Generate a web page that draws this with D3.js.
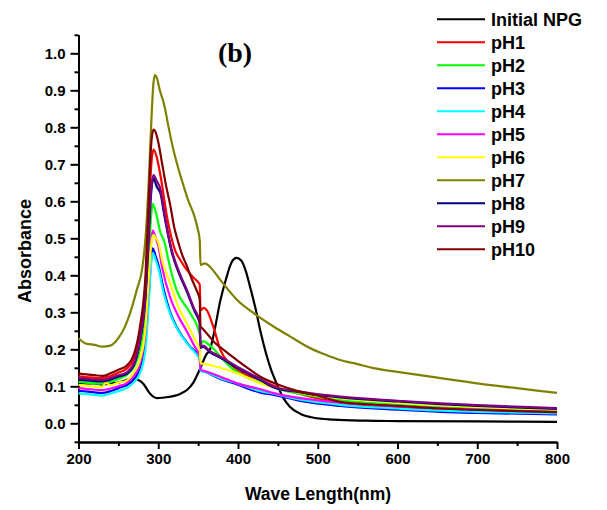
<!DOCTYPE html>
<html>
<head>
<meta charset="utf-8">
<script src="https://cdn.jsdelivr.net/npm/d3@7"></script>
<style>
  body { margin: 0; background: #fff; }
  text { font-family: Arial, "Liberation Sans", sans-serif; font-weight: bold; fill: #000; }
</style>
</head>
<body>
<svg class="chart" width="607" height="510"></svg>
<script>
// series names + colours, in legend order
var seriesNames = ["Initial NPG", "pH1", "pH2", "pH3", "pH4", "pH5", "pH6", "pH7", "pH8", "pH9", "pH10"];
var seriesColors = ["#000000", "#ff0000", "#00ff00", "#0000ff", "#00ffff", "#ff00ff", "#ffff00", "#808000", "#000080", "#800080", "#800000"];

var xTicks = [200, 300, 400, 500, 600, 700, 800];
var yTicks = [0.0, 0.1, 0.2, 0.3, 0.4, 0.5, 0.6, 0.7, 0.8, 0.9, 1.0];

// [wavelength nm, absorbance]
var initialNPG = [[200,0.11],[210,0.108],[220,0.108],[230,0.105],[240,0.108],[250,0.11],[260,0.117],[268,0.12],[275,0.117],[282,0.105],[288,0.085],[292,0.075],[298,0.068],[305,0.069],[312,0.071],[320,0.074],[328,0.08],[336,0.09],[344,0.11],[353,0.15],[360,0.185],[365,0.2],[370,0.245],[378,0.333],[385,0.39],[392,0.435],[398,0.447],[404,0.44],[410,0.41],[415,0.37],[422,0.31],[428,0.25],[435,0.19],[441,0.148],[448,0.11],[457,0.068],[465,0.045],[478,0.026],[495,0.015],[520,0.01],[560,0.007],[600,0.006],[700,0.005],[800,0.004]];
var pH1 = [[200,0.127],[215,0.124],[230,0.122],[240,0.128],[250,0.137],[260,0.147],[270,0.178],[277,0.245],[284,0.37],[288,0.55],[291,0.69],[294,0.74],[298,0.72],[303,0.667],[311,0.558],[321,0.468],[328,0.44],[336,0.414],[345,0.392],[352,0.375],[353,0.305],[357,0.312],[361,0.305],[369,0.261],[378,0.198],[390,0.16],[399,0.144],[428,0.117],[450,0.097],[480,0.078],[528,0.056],[600,0.044],[654,0.037],[700,0.034],[800,0.028]];
var pH2 = [[200,0.112],[215,0.109],[230,0.107],[240,0.112],[250,0.12],[260,0.13],[270,0.155],[277,0.198],[284,0.3],[288,0.44],[291,0.56],[293,0.593],[297,0.57],[303,0.514],[307,0.495],[315,0.42],[323,0.36],[340,0.298],[352,0.24],[353,0.215],[357,0.222],[362,0.215],[370,0.2],[378,0.18],[390,0.153],[410,0.125],[428,0.11],[450,0.093],[500,0.072],[528,0.063],[600,0.05],[654,0.043],[700,0.039],[800,0.033]];
var pH3 = [[200,0.088],[215,0.085],[230,0.082],[240,0.087],[250,0.095],[260,0.103],[270,0.12],[277,0.148],[284,0.22],[288,0.34],[291,0.44],[293,0.473],[297,0.45],[300,0.43],[307,0.36],[315,0.3],[323,0.261],[340,0.207],[352,0.178],[353,0.144],[360,0.138],[378,0.12],[399,0.105],[428,0.083],[445,0.077],[480,0.06],[528,0.047],[600,0.037],[654,0.031],[700,0.028],[800,0.024]];
var pH4 = [[200,0.081],[215,0.078],[230,0.075],[240,0.08],[250,0.087],[260,0.095],[270,0.112],[277,0.135],[284,0.2],[288,0.32],[291,0.43],[293,0.46],[297,0.44],[300,0.42],[307,0.35],[315,0.295],[323,0.258],[340,0.205],[352,0.172],[353,0.142],[360,0.138],[378,0.122],[399,0.108],[428,0.087],[445,0.08],[480,0.063],[528,0.05],[600,0.04],[654,0.034],[700,0.031],[800,0.027]];
var pH5 = [[200,0.095],[215,0.092],[230,0.09],[240,0.094],[250,0.1],[260,0.108],[270,0.13],[277,0.16],[284,0.25],[288,0.38],[291,0.49],[293,0.521],[297,0.5],[300,0.48],[305,0.42],[315,0.34],[325,0.29],[336,0.248],[345,0.21],[352,0.18],[353,0.145],[360,0.14],[378,0.126],[399,0.108],[428,0.092],[450,0.079],[500,0.062],[528,0.056],[600,0.046],[700,0.037],[800,0.03]];
var pH6 = [[200,0.104],[215,0.1],[230,0.098],[234,0.11],[240,0.103],[250,0.11],[260,0.115],[270,0.14],[277,0.171],[284,0.26],[288,0.39],[291,0.48],[294,0.509],[297,0.5],[300,0.49],[305,0.44],[315,0.378],[325,0.315],[336,0.27],[345,0.23],[352,0.2],[353,0.162],[360,0.16],[370,0.155],[378,0.15],[399,0.135],[428,0.108],[450,0.095],[500,0.075],[528,0.068],[600,0.056],[654,0.049],[700,0.044],[800,0.037]];
var pH7 = [[200,0.23],[210,0.215],[220,0.212],[230,0.207],[240,0.21],[250,0.23],[258,0.26],[265,0.3],[273,0.36],[280,0.42],[284,0.5],[288,0.65],[291,0.8],[294,0.92],[296,0.941],[298,0.935],[302,0.9],[307,0.865],[313,0.8],[319,0.739],[325,0.69],[332,0.64],[338,0.6],[344,0.568],[349,0.53],[352,0.495],[353,0.428],[358,0.432],[361,0.43],[370,0.41],[378,0.387],[390,0.355],[399,0.333],[420,0.297],[445,0.261],[465,0.235],[487,0.207],[510,0.185],[528,0.171],[550,0.16],[570,0.149],[600,0.139],[654,0.122],[700,0.108],[750,0.095],[800,0.082]];
var pH8 = [[200,0.118],[215,0.115],[230,0.113],[240,0.118],[250,0.126],[260,0.133],[270,0.16],[277,0.22],[284,0.34],[288,0.5],[291,0.62],[294,0.662],[298,0.64],[303,0.62],[307,0.57],[317,0.462],[326,0.405],[336,0.355],[345,0.305],[352,0.27],[353,0.204],[356,0.207],[365,0.192],[378,0.177],[399,0.15],[428,0.117],[445,0.097],[480,0.083],[528,0.07],[600,0.059],[654,0.052],[700,0.047],[800,0.039]];
var pH9 = [[200,0.122],[215,0.119],[230,0.117],[240,0.122],[250,0.13],[260,0.137],[270,0.165],[277,0.225],[284,0.35],[288,0.52],[291,0.63],[294,0.671],[298,0.655],[303,0.63],[307,0.576],[317,0.468],[326,0.41],[336,0.36],[345,0.31],[352,0.275],[353,0.207],[356,0.21],[365,0.195],[378,0.18],[399,0.153],[428,0.12],[445,0.099],[480,0.085],[528,0.072],[600,0.061],[654,0.054],[700,0.049],[800,0.041]];
var pH10 = [[200,0.135],[210,0.132],[220,0.13],[230,0.128],[240,0.135],[250,0.145],[260,0.155],[270,0.19],[277,0.26],[284,0.4],[288,0.6],[291,0.75],[294,0.794],[297,0.785],[300,0.76],[305,0.7],[310,0.64],[315,0.59],[320,0.53],[325,0.49],[330,0.455],[336,0.425],[342,0.39],[348,0.36],[352,0.335],[353,0.262],[356,0.255],[362,0.24],[370,0.22],[378,0.205],[390,0.185],[399,0.17],[415,0.145],[428,0.126],[450,0.105],[475,0.087],[500,0.075],[528,0.058],[600,0.047],[654,0.04],[700,0.036],[750,0.033],[800,0.03]];

var seriesData = [initialNPG, pH1, pH2, pH3, pH4, pH5, pH6, pH7, pH8, pH9, pH10];

var svg = d3.select(".chart");

var x = d3.scaleLinear().domain([200, 800]).range([78.5, 557]);
var y = d3.scaleLinear().domain([-0.05, 1.05]).range([441.8, 34.8]);

// minor ticks first so the major ones sit on top
svg.append("g")
    .attr("transform", "translate(0,442)")
    .call(d3.axisBottom(x).tickValues(d3.range(250, 800, 100)).tickSize(4).tickSizeOuter(0).tickFormat(""));
svg.append("g")
    .attr("transform", "translate(78.5,0)")
    .call(d3.axisLeft(y).tickValues(d3.range(-0.05, 1.06, 0.1)).tickSize(4).tickSizeOuter(0).tickFormat(""));

var xAxis = svg.append("g")
    .attr("transform", "translate(0,442)")
    .call(d3.axisBottom(x).tickValues(xTicks).tickSize(7).tickSizeOuter(0).tickPadding(4));
var yAxis = svg.append("g")
    .attr("transform", "translate(78.5,0)")
    .call(d3.axisLeft(y).tickValues(yTicks).tickFormat(d3.format(".1f")).tickSize(8).tickSizeOuter(0).tickPadding(5));

svg.selectAll(".domain, .tick line").attr("stroke", "#000").attr("stroke-width", 2);
svg.selectAll(".tick text")
    .style("font-size", "15px")
    .style("font-family", "Arial, 'Liberation Sans', sans-serif")
    .style("font-weight", "bold");

var line = d3.line()
    .curve(d3.curveMonotoneX)
    .x(function(d) { return x(d[0]); })
    .y(function(d) { return y(d[1]); });

svg.append("g").selectAll("path")
    .data(seriesData)
    .enter().append("path")
    .attr("fill", "none")
    .attr("stroke", function(d, i) { return seriesColors[i]; })
    .attr("stroke-width", 2.2)
    .attr("stroke-linejoin", "round")
    .attr("d", line);

// axis titles
svg.append("text")
    .attr("x", 318).attr("y", 500)
    .attr("text-anchor", "middle")
    .style("font-size", "17.5px")
    .text("Wave Length(nm)");
svg.append("text")
    .attr("transform", "translate(31,251) rotate(-90)")
    .attr("text-anchor", "middle")
    .style("font-size", "18px")
    .text("Absorbance");

svg.append("text")
    .attr("x", 235).attr("y", 62)
    .attr("text-anchor", "middle")
    .style("font-family", "'Times New Roman', 'Liberation Serif', serif")
    .style("font-size", "28px")
    .text("(b)");

// legend
var legend = svg.append("g").selectAll("g")
    .data(seriesNames)
    .enter().append("g")
    .attr("transform", function(d, i) { return "translate(0," + (19.3 + i * 23) + ")"; });
legend.append("line")
    .attr("x1", 437).attr("x2", 485)
    .attr("stroke", function(d, i) { return seriesColors[i]; })
    .attr("stroke-width", 2);
legend.append("text")
    .attr("x", 491).attr("dy", "0.36em")
    .style("font-size", "18px")
    .text(function(d) { return d; });
</script>
</body>
</html>
